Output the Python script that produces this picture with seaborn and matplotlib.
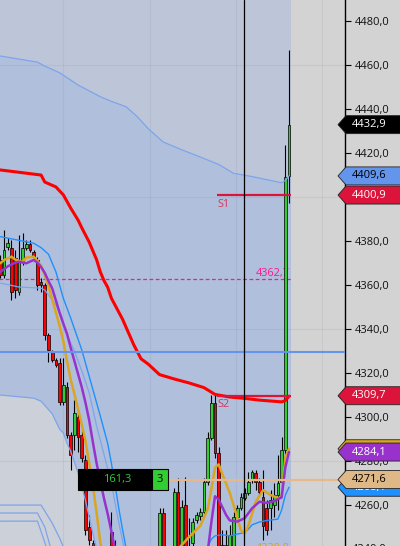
import matplotlib
matplotlib.use("Agg")
import matplotlib.pyplot as plt
import matplotlib.transforms as mtransforms
from matplotlib.patches import Polygon, Rectangle
import seaborn as sns

# ---- candles (one entry per bar, index = bar number) ----
candle_open = [
    4371.4, 4364.5, 4377.3, 4376.8, 4372.3, 4356.8, 4370.5, 4376.8, 4378.6, 4375.0,
    4371.4, 4361.4, 4360.0, 4337.3, 4329.6, 4325.9, 4324.5, 4306.8, 4313.7, 4291.8,
    4291.8, 4300.0, 4291.8, 4280.5, 4250.0, 4242.7, 4235.0, 4229.0, 4234.0, 4228.0,
    4247.7, 4233.0, 4238.0, 4230.0, 4226.0, 4228.0, 4224.0, 4226.0, 4230.0, 4227.0,
    4232.0, 4229.0, 4234.0, 4238.6, 4256.4, 4238.0, 4232.0, 4238.6, 4265.9, 4238.6,
    4260.0, 4240.5, 4242.7, 4253.2, 4255.0, 4256.8, 4270.5, 4290.5, 4306.4, 4283.6,
    4241.8, 4235.0, 4237.3, 4241.4, 4254.6, 4258.6, 4263.2, 4265.5, 4271.4, 4274.6,
    4270.5, 4263.6, 4258.6, 4258.6, 4260.0, 4264.6, 4270.5, 4285.0, 4409.6,
]
candle_high = [
    4373.6, 4385.0, 4381.4, 4380.5, 4375.9, 4382.7, 4383.6, 4380.5, 4380.5, 4375.9,
    4372.7, 4363.2, 4360.9, 4338.2, 4330.5, 4326.8, 4326.8, 4326.8, 4315.9, 4293.2,
    4307.7, 4303.2, 4294.1, 4282.7, 4255.5, 4244.1, 4238.0, 4237.0, 4238.0, 4236.0,
    4256.9, 4244.0, 4240.0, 4236.0, 4232.0, 4234.0, 4230.0, 4233.0, 4236.0, 4235.0,
    4238.0, 4237.0, 4240.0, 4258.6, 4258.6, 4240.0, 4240.0, 4267.7, 4272.3, 4262.3,
    4272.7, 4254.1, 4254.1, 4256.8, 4258.6, 4272.3, 4293.2, 4310.0, 4310.9, 4286.4,
    4248.6, 4248.6, 4250.9, 4256.8, 4260.0, 4265.5, 4267.7, 4275.0, 4275.9, 4275.9,
    4272.3, 4275.9, 4262.3, 4266.8, 4270.0, 4282.7, 4290.9, 4423.6, 4466.8,
]
candle_low = [
    4363.2, 4363.2, 4375.9, 4353.2, 4354.1, 4355.5, 4369.1, 4375.9, 4375.0, 4371.8,
    4357.7, 4356.8, 4335.0, 4325.0, 4325.0, 4322.7, 4305.5, 4305.5, 4290.5, 4275.9,
    4285.0, 4284.1, 4279.6, 4246.4, 4241.8, 4232.7, 4226.0, 4225.0, 4224.0, 4222.0,
    4232.7, 4230.0, 4226.0, 4222.0, 4218.0, 4220.0, 4216.0, 4220.0, 4224.0, 4222.0,
    4226.0, 4224.0, 4230.0, 4236.8, 4236.8, 4228.0, 4229.0, 4236.8, 4236.8, 4236.8,
    4236.8, 4232.7, 4241.4, 4251.8, 4253.2, 4255.9, 4269.1, 4289.5, 4281.4, 4235.0,
    4232.7, 4232.7, 4235.0, 4239.6, 4253.2, 4257.7, 4262.3, 4264.6, 4270.0, 4266.8,
    4264.6, 4244.1, 4246.4, 4248.7, 4254.6, 4257.7, 4269.1, 4282.7, 4397.3,
]
candle_close = [
    4364.5, 4375.9, 4379.1, 4356.8, 4357.7, 4370.5, 4376.8, 4378.6, 4375.9, 4372.7,
    4360.0, 4360.0, 4337.3, 4330.5, 4325.9, 4323.6, 4306.8, 4314.6, 4291.8, 4282.7,
    4301.8, 4290.9, 4281.4, 4248.7, 4244.1, 4235.0, 4230.0, 4234.0, 4228.0, 4233.0,
    4235.0, 4240.0, 4230.0, 4226.0, 4228.0, 4224.0, 4226.0, 4230.0, 4227.0, 4232.0,
    4229.0, 4234.0, 4238.0, 4256.4, 4238.6, 4232.0, 4238.0, 4265.9, 4238.6, 4259.1,
    4238.6, 4235.0, 4252.3, 4255.5, 4256.8, 4270.5, 4290.5, 4306.4, 4283.6, 4237.3,
    4235.0, 4241.8, 4246.4, 4254.6, 4258.6, 4263.6, 4265.5, 4270.5, 4275.0, 4270.5,
    4265.9, 4250.5, 4248.7, 4262.3, 4264.6, 4270.0, 4285.0, 4409.1, 4432.9,
]

# ---- indicator lines (bar index, price) ----
vwap_idx = [0, 11, 12, 15, 17, 19, 21, 22, 24, 26, 27, 28, 29, 30, 33, 36, 38, 40, 43, 47,
            51, 55, 58, 62, 66, 70, 76, 77, 78]
vwap_val = [4412.3, 4410.0, 4406.8, 4404.6, 4401.0, 4395.0, 4389.5, 4386.0, 4379.5, 4371.5,
            4366.0, 4362.0, 4359.0, 4354.0, 4344.5, 4333.0, 4326.5, 4324.0, 4319.3, 4317.3,
            4315.5, 4313.4, 4310.3, 4309.1, 4308.5, 4307.7, 4306.9, 4307.5, 4309.5]

band_up_idx = [0, 10, 12, 16, 21, 27, 30, 34, 37, 40, 44, 49, 54, 59, 63, 68, 76, 77, 78]
band_up_val = [4464.1, 4461.3, 4459.5, 4456.5, 4450.9, 4445.6, 4443.5, 4441.0, 4436.5, 4431.0,
               4425.0, 4421.5, 4418.2, 4414.8, 4410.8, 4409.3, 4406.5, 4407.5, 4409.6]

band_lo_idx = [0, 9, 11, 14, 16, 17, 18, 19, 20, 21, 22, 23, 24, 25, 26, 27]
band_lo_val = [4310.0, 4308.6, 4307.2, 4301.5, 4294.5, 4292.8, 4288.2, 4284.5, 4279.5, 4274.5,
               4268.5, 4262.0, 4254.5, 4247.0, 4240.0, 4233.0]

band_mid_idx = [0, 5, 11, 12, 13, 15, 16, 17, 18, 20, 22, 24, 26, 28, 30, 32, 33, 34]
band_mid_val = [4360.9, 4359.1, 4358.6, 4357.7, 4355.5, 4351.0, 4347.0, 4342.0, 4337.5, 4330.0,
                4321.0, 4311.0, 4296.0, 4283.0, 4270.0, 4252.0, 4244.0, 4236.0]

band_d_idx = [0, 11, 14, 16, 17, 18]
band_d_val = [4260.0, 4260.0, 4251.8, 4245.0, 4241.0, 4237.0]
band_e_idx = [0, 10, 12, 13, 14]
band_e_val = [4256.4, 4256.4, 4250.0, 4244.0, 4238.0]
band_f_idx = [0, 10, 11, 12, 13]
band_f_val = [4252.7, 4252.7, 4248.0, 4243.0, 4238.0]

bb_up_idx = [0, 3, 9, 11, 13, 15, 16, 17, 19, 22, 25, 27, 29, 30, 31, 32, 33, 34]
bb_up_val = [4382.0, 4381.0, 4379.0, 4377.0, 4374.0, 4366.0, 4360.0, 4354.0, 4345.0, 4330.5,
             4312.5, 4300.5, 4288.0, 4279.0, 4269.0, 4258.5, 4249.0, 4240.0]
bb_lo_idx = [55, 56, 57, 58, 60, 62, 64, 66, 67, 68, 70, 72, 75, 76, 77, 78]
bb_lo_val = [4236.0, 4241.0, 4244.5, 4246.0, 4246.5, 4246.0, 4246.8, 4247.5, 4249.0, 4251.0,
             4252.3, 4253.0, 4253.6, 4257.7, 4264.5, 4268.1]

ema_fast_a_idx = [0, 1, 3, 4, 6, 7, 9, 10, 11, 12, 13, 14, 15, 16, 17, 18, 19, 20, 21, 22,
                  23, 24, 25, 26, 27, 28]
ema_fast_a_val = [4369.9, 4371.4, 4372.9, 4371.6, 4370.5, 4372.5, 4372.9, 4371.0, 4368.8, 4364.5,
                  4359.5, 4353.5, 4347.5, 4341.5, 4334.5, 4325.5, 4317.0, 4310.5, 4303.5, 4296.5,
                  4289.0, 4279.0, 4268.5, 4256.5, 4243.0, 4235.0]
ema_fast_b_idx = [47, 48, 51, 54, 56, 57, 58, 59, 60, 62, 64, 65, 66, 67, 69, 71, 73, 75, 76, 77, 78]
ema_fast_b_val = [4236.0, 4240.0, 4245.5, 4250.5, 4258.0, 4267.0, 4277.0, 4278.5, 4274.0, 4265.5,
                  4254.6, 4248.5, 4247.0, 4250.5, 4261.5, 4266.8, 4264.6, 4263.2, 4263.6, 4281.8, 4285.6]

ema_slow_a_idx = [0, 2, 4, 5, 7, 9, 10, 11, 12, 13, 14, 15, 16, 17, 18, 19, 20, 21, 22, 23,
                  24, 25, 26, 27, 28, 29, 30, 31]
ema_slow_a_val = [4366.0, 4368.5, 4370.2, 4370.6, 4369.9, 4371.4, 4370.2, 4368.2, 4365.5, 4361.8,
                  4358.5, 4353.0, 4347.5, 4342.5, 4337.8, 4331.5, 4325.5, 4319.5, 4313.5, 4306.5,
                  4298.5, 4288.5, 4279.0, 4271.0, 4263.0, 4256.0, 4248.0, 4240.0]
ema_slow_b_idx = [55, 56, 57, 58, 59, 60, 61, 62, 64, 66, 68, 70, 72, 74, 76, 77, 78]
ema_slow_b_val = [4236.0, 4238.5, 4252.0, 4264.0, 4262.5, 4259.0, 4255.5, 4253.0, 4252.5, 4254.0,
                  4258.5, 4261.5, 4261.0, 4261.8, 4263.5, 4277.0, 4284.1]

# ---- levels ----
s1_level = 4400.9
s2_level = 4309.7
s_start = 58.6
pivot_level = 4362.7
blue_level = 4329.6
tan_level = 4271.6
cursor_idx = 65.9
grid_y = [4280, 4340, 4400, 4460]
grid_x = [16.9, 40.4, 63.7, 86.9]
tick_vals = [4260, 4280, 4300, 4320, 4340, 4360, 4380, 4400, 4420, 4440, 4460, 4480]
# 4400,0 sits fully under the S1 tag, so it is left blank
tick_labels = ["4260,0", "4280,0", "4300,0", "4320,0", "4340,0", "4360,0", "4380,0",
               "", "4420,0", "4440,0", "4460,0", "4480,0"]

BG = "#d3d3d3"
sns.set_style("white")
plt.rcParams["font.family"] = ["Open Sans", "DejaVu Sans"]

fig = plt.figure(figsize=(4.0, 5.46), dpi=100, facecolor=BG)
ax = fig.add_axes([0, 0, 345 / 400, 1])
ax.set_facecolor(BG)
x_lo, x_hi = -0.108, 93.135
y_lo, y_hi = 4241.4, 4489.55
n = len(candle_close)
session_end = n - 1 + 0.55

# session shading and band fill
ax.axvspan(-1, session_end, color="#bdc6d8", lw=0, zorder=0)
ax.fill([-1] + band_up_idx + [session_end, session_end, -1],
        [band_up_val[0]] + band_up_val + [band_up_val[-1], 4200, 4200],
        color="#b0c0dc", lw=0, zorder=0.1)
ax.fill([-1] + band_lo_idx + [band_lo_idx[-1], -1],
        [band_lo_val[0]] + band_lo_val + [4200, 4200],
        color="#cbd0d9", lw=0, zorder=0.2)

for gy in grid_y:
    ax.axhline(gy, color=(0.25, 0.3, 0.45, 0.08), lw=0.8, zorder=0.3)
for gx in grid_x:
    ax.axvline(gx, color=(0.25, 0.3, 0.45, 0.08), lw=0.8, zorder=0.3)

# pivot dashed level and its label (under candles)
ax.hlines(pivot_level, -1, session_end, color="#ff1493", lw=0.9,
          linestyles=(0, (3, 2)), zorder=1.5)
ax.text(n - 1 + 0.3, pivot_level + 1.3, "4362,7", ha="right", va="baseline",
        color="#ff1493", fontsize=7.8, zorder=1.6)
ax.text(n - 1 + 0.3, 4239.3, "4238,8", ha="right", va="baseline",
        color="#d4a030", fontsize=7.8, zorder=1.6)

# candles
idx = list(range(n))
ax.vlines(idx, candle_low, candle_high, color="black", lw=0.8, zorder=2)
bottoms = [min(o, c) for o, c in zip(candle_open, candle_close)]
heights = [max(abs(c - o), 0.4) for o, c in zip(candle_open, candle_close)]
colors = ["#32cd32" if c >= o else "#ff0000" for o, c in zip(candle_open, candle_close)]
ax.bar(idx, heights, bottom=bottoms, width=0.74, color=colors,
       edgecolor="black", linewidth=0.5, zorder=3)

# bands
pale = "#7ea4ea"
for bx, by in [(band_up_idx, band_up_val), (band_lo_idx, band_lo_val),
               (band_mid_idx, band_mid_val), (band_d_idx, band_d_val),
               (band_e_idx, band_e_val), (band_f_idx, band_f_val)]:
    sns.lineplot(x=bx, y=by, ax=ax, color=pale, lw=0.9, legend=False, zorder=3.5)
for bx, by in [(bb_up_idx, bb_up_val), (bb_lo_idx, bb_lo_val)]:
    sns.lineplot(x=bx, y=by, ax=ax, color="#1e90ff", lw=1.0, legend=False, zorder=3.6)

# moving averages
for bx, by in [(ema_fast_a_idx, ema_fast_a_val), (ema_fast_b_idx, ema_fast_b_val)]:
    sns.lineplot(x=bx, y=by, ax=ax, color="#daa520", lw=1.8, legend=False, zorder=4.2)
for bx, by in [(ema_slow_a_idx, ema_slow_a_val), (ema_slow_b_idx, ema_slow_b_val)]:
    sns.lineplot(x=bx, y=by, ax=ax, color="#9932cc", lw=1.8, legend=False, zorder=4.3)

# vwap
sns.lineplot(x=vwap_idx, y=vwap_val, ax=ax, color="#ff0000", lw=2.2, legend=False, zorder=4.5)

# horizontal levels
ax.axhline(blue_level, color="#6495ed", lw=1.5, zorder=4.6)
ax.hlines([s1_level, s2_level], s_start, session_end, color="#dc143c", lw=1.6, zorder=5)
ax.text(s_start, s1_level - 1.6, "S1", ha="left", va="top", color="#d8365c",
        fontsize=7.8, zorder=5)
ax.text(s_start, s2_level - 1.6, "S2", ha="left", va="top", color="#d8365c",
        fontsize=7.8, zorder=5)

# counter box on the tan level
box_l, box_m, box_r = 21.05, 40.9, 45.4
box_h = 4.95
ax.add_patch(Rectangle((box_l, tan_level - box_h), box_m - box_l, 2 * box_h,
                       facecolor="black", edgecolor="black", lw=0.8, zorder=6))
ax.add_patch(Rectangle((box_m, tan_level - box_h), box_r - box_m, 2 * box_h,
                       facecolor="#32cd32", edgecolor="black", lw=0.8, zorder=6))
ax.text((box_l + box_m) / 2 + 0.5, tan_level, "161,3", ha="center", va="center",
        color="#2ecc40", fontsize=8, zorder=7)
ax.text((box_m + box_r) / 2, tan_level, "3", ha="center", va="center",
        color="black", fontsize=8, zorder=7)
ax.hlines(tan_level, box_r, x_hi + 1, color="#e6b98c", lw=1.6, zorder=5.5)

ax.axvline(cursor_idx, color="black", lw=0.9, zorder=8)

ax.set_xlim(x_lo, x_hi)
ax.set_ylim(y_lo, y_hi)
ax.set_xlabel("")
ax.set_ylabel("")

# right price axis
ax.yaxis.tick_right()
ax.set_yticks(tick_vals)
ax.set_yticklabels(tick_labels)
ax.tick_params(axis="y", direction="out", length=4, width=0.8, color="black",
               labelsize=8, pad=3, labelcolor="#111111")
ax.set_xticks([])
for side in ["top", "left", "bottom"]:
    ax.spines[side].set_visible(False)
ax.spines["right"].set_color("black")
ax.spines["right"].set_linewidth(1.0)

# price tags on the axis
trans = mtransforms.blended_transform_factory(ax.transAxes, ax.transData)
px_per_unit = 546 / (y_hi - y_lo)
hh = 9 / px_per_unit
tip, sh, rt = 338 / 345, 346 / 345, 401 / 345


def tag(value, text, face, tcolor, z):
    ax.add_patch(Polygon([(tip, value), (sh, value + hh), (rt, value + hh),
                          (rt, value - hh), (sh, value - hh)], closed=True,
                         transform=trans, clip_on=False, facecolor=face,
                         edgecolor="#222222", lw=0.6, zorder=z))
    ax.text(352 / 345, value, text, transform=trans, ha="left", va="center",
            color=tcolor, fontsize=8, zorder=z + 0.1, clip_on=False)


ax.text(352 / 345, 4240, "4240,0", transform=trans, ha="left", va="center",
        color="#111111", fontsize=8, clip_on=False)
tag(4268.1, "4268,1", "#1e90ff", "white", 10)
tag(tan_level, "4271,6", "#deb887", "black", 11)
tag(4285.6, "4285,6", "#daa520", "white", 10)
tag(4284.1, "4284,1", "#9932cc", "white", 11)
tag(s2_level, "4309,7", "#dc143c", "white", 11)
tag(s1_level, "4400,9", "#dc143c", "white", 11)
tag(4409.6, "4409,6", "#6495ed", "black", 10)
tag(candle_close[-1], "4432,9", "black", "white", 12)

fig.savefig("out.png", dpi=100, facecolor=BG)
